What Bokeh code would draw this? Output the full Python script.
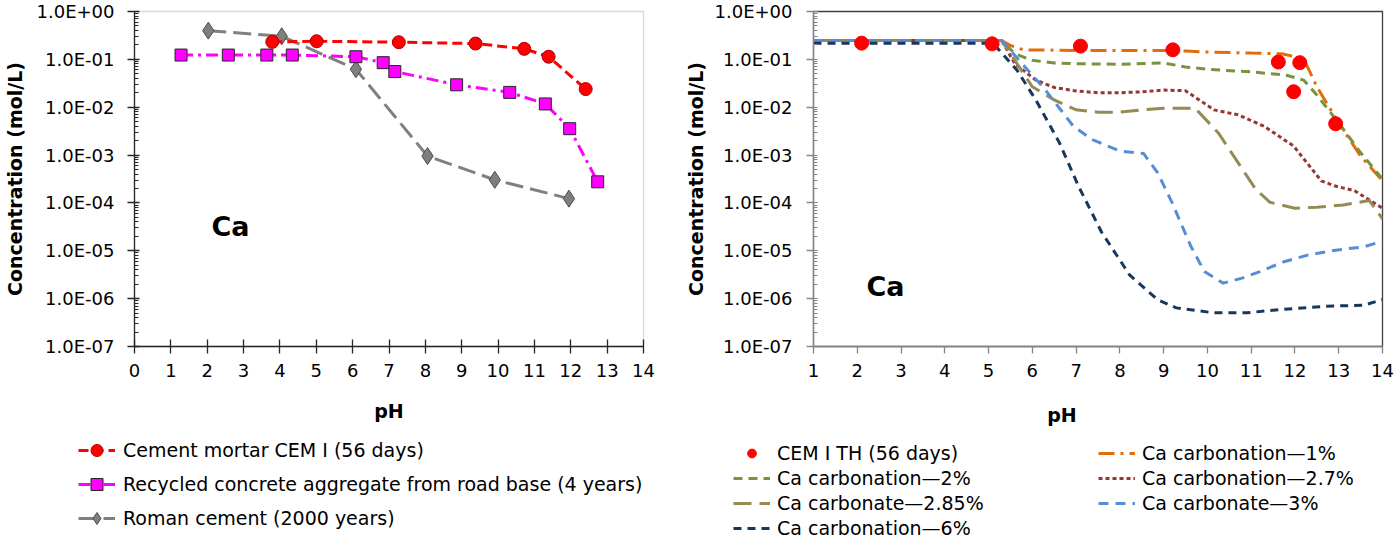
from math import pi
from bokeh.plotting import figure
from bokeh.layouts import row, column
from bokeh.models import (FixedTicker, LogTicker, CustomJSTickFormatter, Legend,
                          LegendItem, Label, Range1d)
from bokeh.embed import file_html
from bokeh.resources import INLINE

# ---------------- data: left chart ----------------
cem_ph = [3.79, 5.01, 7.27, 9.38, 10.72, 11.39, 12.41]
cem_c = [0.232, 0.239, 0.228, 0.214, 0.166, 0.1135, 0.0239]
rca_ph = [1.28, 2.58, 3.64, 4.34, 6.09, 6.84, 7.16, 8.86, 10.32, 11.30, 11.97, 12.74]
rca_c = [0.123, 0.123, 0.123, 0.123, 0.1135, 0.0853, 0.0556, 0.0294, 0.0204, 0.0117, 0.00356, 0.000276]
rom_ph = [2.03, 4.05, 6.09, 8.06, 9.91, 11.95]
rom_c = [0.398, 0.304, 0.0621, 0.000953, 0.000304, 0.000123]

# ---------------- data: right chart ----------------
th_ph = [2.10, 5.08, 7.10, 9.21, 11.62, 12.11, 11.97, 12.93]
th_c = [0.218, 0.211, 0.189, 0.158, 0.088, 0.0853, 0.0211, 0.00452]

c1_ph = [1, 5.3, 5.5, 5.8, 7, 9, 9.5, 10, 11, 11.7, 12.2, 12.5, 13, 13.5, 14]
c1_c = [0.247, 0.247, 0.195, 0.158, 0.154, 0.154, 0.149, 0.142, 0.135, 0.131, 0.103, 0.0268, 0.00467, 0.000953, 0.00029]
c2_ph = [1, 5.3, 5.6, 6, 6.5, 7, 8, 9, 9.5, 10, 11, 11.8, 12.2, 12.5, 13, 13.5, 14]
c2_c = [0.247, 0.247, 0.131, 0.0953, 0.084, 0.0813, 0.0788, 0.084, 0.0694, 0.0621, 0.0547, 0.0467, 0.0368, 0.018, 0.00467, 0.00112, 0.000314]
c27_ph = [1, 5.3, 5.6, 6.08, 6.5, 7, 7.5, 8, 8.5, 9, 9.5, 10.15, 10.7, 11.3, 11.97, 12.6, 12.9, 13.36, 14]
c27_c = [0.247, 0.247, 0.0813, 0.0368, 0.0259, 0.0218, 0.0201, 0.0201, 0.0210, 0.0228, 0.0221, 0.00881, 0.00694, 0.00398, 0.00154, 0.00029, 0.000228, 0.00018, 0.0000776]
c285_ph = [1, 5.3, 6, 6.5, 7, 7.5, 8, 8.5, 9, 9.72, 10.25, 10.8, 11.1, 11.43, 12, 12.5, 13.1, 13.7, 14]
c285_c = [0.247, 0.247, 0.0268, 0.0142, 0.00881, 0.00788, 0.00788, 0.00881, 0.00953, 0.00953, 0.0029, 0.000505, 0.000195, 0.000103, 0.0000776, 0.0000813, 0.0000909, 0.000112, 0.0000467]
c3_ph = [1, 5.3, 6.3, 6.94, 7.37, 8.0, 8.54, 8.86, 9.19, 9.61, 9.93, 10.36, 10.79, 11.2, 11.75, 12.29, 12.93, 13.57, 14]
c3_c = [0.247, 0.247, 0.0228, 0.00398, 0.00211, 0.00121, 0.00108, 0.000431, 0.000103, 0.0000131, 0.00000368, 0.00000211, 0.00000268, 0.00000368, 0.00000592, 0.00000813, 0.0000103, 0.0000121, 0.0000158]
c6_ph = [1, 5.1, 5.65, 6.08, 6.62, 7.05, 7.58, 8.22, 8.86, 9.29, 10.15, 10.9, 11.65, 12.7, 13.57, 14]
c6_c = [0.218, 0.218, 0.0592, 0.0142, 0.0018, 0.000228, 0.0000247, 0.00000314, 0.000000953, 0.000000641, 0.000000505, 0.000000505, 0.000000592, 0.000000693, 0.000000728, 0.000000953]

left_xticks = list(range(0, 15))
right_xticks = list(range(1, 15))

legend_left = ["Cement mortar CEM I (56 days)",
               "Recycled concrete aggregate from road base (4 years)",
               "Roman cement (2000 years)"]
legend_right = ["CEM I TH (56 days)", "Ca carbonation\u20141%", "Ca carbonation\u20142%",
                "Ca carbonation\u20142.7%", "Ca carbonate\u20142.85%", "Ca carbonate\u20143%",
                "Ca carbonation\u20146%"]

# ---------------- styles ----------------
FONT = "DejaVu Sans"
ST_CEM = dict(line_color="#ff0000", line_width=3, line_dash="10 5")
MK_CEM = dict(marker="circle", size=13, fill_color="#ff0000", line_color="#b00000", line_width=1)
ST_RCA = dict(line_color="#ff00ff", line_width=3, line_dash="12 5 3 5")
MK_RCA = dict(marker="square", size=12, fill_color="#ff00ff", line_color="#262626", line_width=1)
ST_ROM = dict(line_color="#808080", line_width=3, line_dash="18 7")
MK_ROM = dict(marker="diamond", size=17, fill_color="#7f7f7f", line_color="#4d4d4d", line_width=1)
ST_C1 = dict(line_color="#e46c0a", line_width=3, line_dash="16 6 3 6")
ST_C2 = dict(line_color="#77933c", line_width=3, line_dash="9 6")
ST_C27 = dict(line_color="#953735", line_width=3, line_dash="4 3")
ST_C285 = dict(line_color="#948a54", line_width=3, line_dash="18 8")
ST_C3 = dict(line_color="#558ed5", line_width=3, line_dash="10 7")
ST_C6 = dict(line_color="#17375e", line_width=3, line_dash="8 6")
MK_TH = dict(marker="circle", size=14, fill_color="#ff0000", line_color="#ff0000", line_width=1)

fmt = CustomJSTickFormatter(code="""
const e = Math.round(Math.log10(tick));
const a = Math.abs(e);
return "1.0E" + (e >= 0 ? "+" : "-") + (a < 10 ? "0" : "") + a;
""")


def style_axes(p, xticks, axis_color, x_in, y_in, y_std, title_std):
    p.xgrid.grid_line_color = None
    p.ygrid.grid_line_color = None
    xa = p.xaxis[0]
    ya = p.yaxis[0]
    xa.ticker = FixedTicker(ticks=xticks)
    ya.ticker = LogTicker(num_minor_ticks=10)
    ya.formatter = fmt
    for ax in (xa, ya):
        ax.axis_line_color = axis_color
        ax.axis_line_width = 1.3
        ax.major_tick_line_color = axis_color
        ax.major_tick_line_width = 1.3
        ax.major_tick_out = 7
        ax.major_label_text_font = FONT
        ax.major_label_text_font_size = "18px"
        ax.major_label_text_color = "#000000"
    xa.major_tick_in = x_in
    ya.major_tick_in = y_in
    xa.minor_tick_line_color = None
    ya.minor_tick_line_color = axis_color
    ya.minor_tick_in = 4
    ya.minor_tick_out = 0
    xa.major_label_standoff = 10
    ya.major_label_standoff = y_std
    ya.axis_label = "Concentration (mol/L)"
    ya.axis_label_text_font = FONT
    ya.axis_label_text_font_size = "19px"
    ya.axis_label_text_font_style = "bold"
    ya.axis_label_text_color = "#000000"
    ya.axis_label_standoff = title_std


def add_label(p, text, x, y, size, units="screen"):
    p.add_layout(Label(x=x, y=y, x_units=units, y_units=units, text=text,
                       text_align="center", text_baseline="middle",
                       text_font=FONT, text_font_size=size, text_font_style="bold",
                       text_color="#000000"))


def blank_fig(w, h):
    q = figure(width=w, height=h, x_range=Range1d(0, w), y_range=Range1d(h, 0),
               output_backend="svg", toolbar_location=None,
               x_axis_location=None, y_axis_location=None,
               min_border_left=0, min_border_right=0, min_border_top=0, min_border_bottom=0)
    q.outline_line_color = None
    q.xgrid.grid_line_color = None
    q.ygrid.grid_line_color = None
    return q


# ---------------- left chart ----------------
p1 = figure(width=680, height=388, y_axis_type="log",
            x_range=Range1d(0, 14), y_range=Range1d(1e-7, 1),
            output_backend="svg", toolbar_location=None,
            min_border_left=134, min_border_right=37,
            min_border_top=11, min_border_bottom=42)
p1.outline_line_color = "#d9d9d9"
p1.outline_line_width = 1.3
style_axes(p1, left_xticks, "#262626", 7, 5, 13, 8)

p1.line(rom_ph, rom_c, **ST_ROM)
p1.scatter(rom_ph, rom_c, **MK_ROM)
p1.line(rca_ph, rca_c, **ST_RCA)
p1.scatter(rca_ph, rca_c, **MK_RCA)
p1.line(cem_ph, cem_c, **ST_CEM)
p1.scatter(cem_ph, cem_c, **MK_CEM)
add_label(p1, "Ca", 96, 120, "27px")

# ---------------- right chart ----------------
p2 = figure(width=714, height=388, y_axis_type="log",
            x_range=Range1d(1, 14), y_range=Range1d(1e-7, 1),
            output_backend="svg", toolbar_location=None,
            min_border_left=133, min_border_right=12,
            min_border_top=11, min_border_bottom=39)
p2.outline_line_color = "#404040"
p2.outline_line_width = 1.3
style_axes(p2, right_xticks, "#868686", 0, 0, 14, 5)

p2.line(c1_ph, c1_c, **ST_C1)
p2.line(c2_ph, c2_c, **ST_C2)
p2.line(c27_ph, c27_c, **ST_C27)
p2.line(c285_ph, c285_c, **ST_C285)
p2.line(c3_ph, c3_c, **ST_C3)
p2.line(c6_ph, c6_c, **ST_C6)
p2.scatter(th_ph, th_c, **MK_TH)
add_label(p2, "Ca", 72, 60, "27px")

# ---------------- bottom strips: x titles and legends ----------------
# legend-only renderers: one point far outside the visible strip
off = [-1000]

q1 = blank_fig(680, 151)
add_label(q1, "pH", 388.5, 22, "19px", units="data")
g_cem = [q1.line(off, off, **ST_CEM), q1.scatter(off, off, **MK_CEM)]
g_rca = [q1.line(off, off, **ST_RCA), q1.scatter(off, off, **MK_RCA)]
g_rom = [q1.line(off, off, **ST_ROM), q1.scatter(off, off, **MK_ROM)]
leg1 = Legend(items=[LegendItem(label=legend_left[0], renderers=g_cem),
                     LegendItem(label=legend_left[1], renderers=g_rca),
                     LegendItem(label=legend_left[2], renderers=g_rom)],
              location=(78, 6), orientation="vertical", padding=0, margin=0,
              spacing=4, glyph_width=37, glyph_height=30, label_height=30,
              label_standoff=8, label_text_font=FONT, label_text_font_size="19px",
              label_text_color="#000000",
              background_fill_alpha=0, border_line_alpha=0)
q1.add_layout(leg1)

q2 = blank_fig(714, 151)
add_label(q2, "pH", 381.5, 26, "19px", units="data")
h_th = q2.scatter(off, off, **MK_TH)
h1 = q2.line(off, off, **ST_C1)
h2 = q2.line(off, off, **ST_C2)
h27 = q2.line(off, off, **ST_C27)
h285 = q2.line(off, off, **ST_C285)
h3 = q2.line(off, off, **ST_C3)
h6 = q2.line(off, off, **ST_C6)
leg_common = dict(orientation="vertical", padding=0, margin=0, spacing=3,
                  glyph_width=37, glyph_height=22, label_height=22, label_standoff=7,
                  label_text_font=FONT, label_text_font_size="19px",
                  label_text_color="#000000",
                  background_fill_alpha=0, border_line_alpha=0)
leg2a = Legend(items=[LegendItem(label=legend_right[0], renderers=[h_th]),
                      LegendItem(label=legend_right[2], renderers=[h2]),
                      LegendItem(label=legend_right[4], renderers=[h285]),
                      LegendItem(label=legend_right[6], renderers=[h6])],
               location=(53, 0), **leg_common)
leg2b = Legend(items=[LegendItem(label=legend_right[1], renderers=[h1]),
                      LegendItem(label=legend_right[3], renderers=[h27]),
                      LegendItem(label=legend_right[5], renderers=[h3])],
               location=(418, 25), **leg_common)
q2.add_layout(leg2a)
q2.add_layout(leg2b)

layout = column(row(p1, p2), row(q1, q2))
open("out.html", "w").write(file_html(layout, INLINE))
